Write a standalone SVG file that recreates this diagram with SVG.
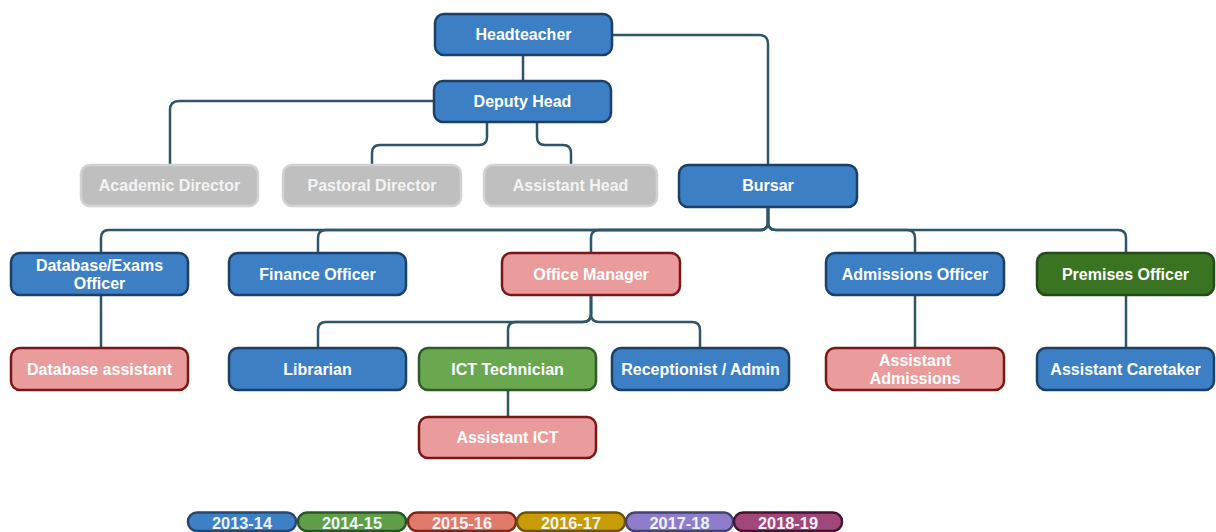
<svg xmlns="http://www.w3.org/2000/svg" width="1216" height="532" viewBox="0 0 1216 532">
<style>
.n rect{stroke-width:2.5}
.n text,.lg text{font-family:"Liberation Sans",Arial,sans-serif;font-weight:bold;font-size:16px;fill:#ffffff;text-anchor:middle}
.lg text{font-size:17px;fill:#eef3f8}
.blue rect{fill:#3d7fc5;stroke:#1d3f66}
.gray rect{fill:#bfbfbf;stroke:#d2d2d2}
.gray text{fill:#f3f3f3}
.pink rect{fill:#ea9c9c;stroke:#7a1616}
.green rect{fill:#6aa84f;stroke:#2f5a2a}
.dgreen rect{fill:#3a7321;stroke:#26491a}
#connectors path{fill:none;stroke:#2e5668;stroke-width:2.5}
.lg rect{stroke-width:2.5}
</style>
<rect width="1216" height="532" fill="#ffffff"/>
<g id="connectors">
<path d="M523,55 V81"/>
<path d="M612,35 H759 Q768,35 768,44 V165"/>
<path d="M434,101 H179 Q170,101 170,110 V165"/>
<path d="M487,122 V137 Q487,145 479,145 H380 Q372,145 372,153 V165"/>
<path d="M537,122 V137 Q537,145 545,145 H563 Q571,145 571,153 V165"/>
<path d="M768,207 V222 Q768,230 760,230 H109 Q101,230 101,238 V253"/>
<path d="M768,207 V222 Q768,230 760,230 H326 Q318,230 318,238 V253"/>
<path d="M768,207 V222 Q768,230 760,230 H599 Q591,230 591,238 V253"/>
<path d="M768,207 V222 Q768,230 776,230 H907 Q915,230 915,238 V253"/>
<path d="M768,207 V222 Q768,230 776,230 H1118 Q1126,230 1126,238 V253"/>
<path d="M101,295 V348"/>
<path d="M591,295 V314 Q591,322 583,322 H326 Q318,322 318,330 V348"/>
<path d="M591,295 V314 Q591,322 583,322 H516 Q508,322 508,330 V348"/>
<path d="M591,295 V314 Q591,322 599,322 H692 Q700,322 700,330 V348"/>
<path d="M508,390 V417"/>
<path d="M915,295 V348"/>
<path d="M1126,295 V348"/>
</g>
<g id="headteacher" class="n blue"><rect x="435" y="14" width="177" height="41" rx="9"/><text x="523.5" y="40">Headteacher</text></g>
<g id="deputy-head" class="n blue"><rect x="434" y="81" width="177" height="41" rx="9"/><text x="522.5" y="107">Deputy Head</text></g>
<g id="academic-director" class="n gray"><rect x="81" y="165" width="177" height="41" rx="9"/><text x="169.5" y="191">Academic Director</text></g>
<g id="pastoral-director" class="n gray"><rect x="283" y="165" width="178" height="41" rx="9"/><text x="372" y="191">Pastoral Director</text></g>
<g id="assistant-head" class="n gray"><rect x="484" y="165" width="173" height="41" rx="9"/><text x="570.5" y="191">Assistant Head</text></g>
<g id="bursar" class="n blue"><rect x="679" y="165" width="178" height="42" rx="9"/><text x="768" y="191">Bursar</text></g>
<g id="database-exams-officer" class="n blue"><rect x="11" y="253" width="177" height="42" rx="9"/><text x="99.5" y="271">Database/Exams</text><text x="99.5" y="289">Officer</text></g>
<g id="finance-officer" class="n blue"><rect x="229" y="253" width="177" height="42" rx="9"/><text x="317.5" y="280">Finance Officer</text></g>
<g id="office-manager" class="n pink"><rect x="502" y="253" width="178" height="42" rx="9"/><text x="591" y="280">Office Manager</text></g>
<g id="admissions-officer" class="n blue"><rect x="826" y="253" width="178" height="42" rx="9"/><text x="915" y="280">Admissions Officer</text></g>
<g id="premises-officer" class="n dgreen"><rect x="1037" y="253" width="177" height="42" rx="9"/><text x="1125.5" y="280">Premises Officer</text></g>
<g id="database-assistant" class="n pink"><rect x="11" y="348" width="177" height="42" rx="9"/><text x="99.5" y="375">Database assistant</text></g>
<g id="librarian" class="n blue"><rect x="229" y="348" width="177" height="42" rx="9"/><text x="317.5" y="375">Librarian</text></g>
<g id="ict-technician" class="n green"><rect x="419" y="348" width="177" height="42" rx="9"/><text x="507.5" y="375">ICT Technician</text></g>
<g id="receptionist-admin" class="n blue"><rect x="612" y="348" width="177" height="42" rx="9"/><text x="700.5" y="375">Receptionist / Admin</text></g>
<g id="assistant-admissions" class="n pink"><rect x="826" y="348" width="178" height="42" rx="9"/><text x="915" y="366">Assistant</text><text x="915" y="384">Admissions</text></g>
<g id="assistant-caretaker" class="n blue"><rect x="1037" y="348" width="177" height="42" rx="9"/><text x="1125.5" y="375">Assistant Caretaker</text></g>
<g id="assistant-ict" class="n pink"><rect x="419" y="417" width="177" height="41" rx="9"/><text x="507.5" y="443">Assistant ICT</text></g>
<g id="legend" class="lg">
<g id="legend-2013-14"><rect x="188" y="512.5" width="108" height="18.5" rx="9" fill="#3d80c6" stroke="#27476e"/><text x="242" y="529" textLength="60" lengthAdjust="spacingAndGlyphs">2013-14</text></g>
<g id="legend-2014-15"><rect x="298" y="512.5" width="108" height="18.5" rx="9" fill="#5f9f4a" stroke="#2c5527"/><text x="352" y="529" textLength="60" lengthAdjust="spacingAndGlyphs">2014-15</text></g>
<g id="legend-2015-16"><rect x="408" y="512.5" width="108" height="18.5" rx="9" fill="#e07b6b" stroke="#7e2618"/><text x="462" y="529" textLength="60" lengthAdjust="spacingAndGlyphs">2015-16</text></g>
<g id="legend-2016-17"><rect x="517" y="512.5" width="108" height="18.5" rx="9" fill="#c89c05" stroke="#6e5300"/><text x="571" y="529" textLength="60" lengthAdjust="spacingAndGlyphs">2016-17</text></g>
<g id="legend-2017-18"><rect x="626" y="512.5" width="107" height="18.5" rx="9" fill="#8f7ccb" stroke="#45446f"/><text x="679.5" y="529" textLength="60" lengthAdjust="spacingAndGlyphs">2017-18</text></g>
<g id="legend-2018-19"><rect x="734" y="512.5" width="108" height="18.5" rx="9" fill="#a2477a" stroke="#421632"/><text x="788" y="529" textLength="60" lengthAdjust="spacingAndGlyphs">2018-19</text></g>
</g>
</svg>
